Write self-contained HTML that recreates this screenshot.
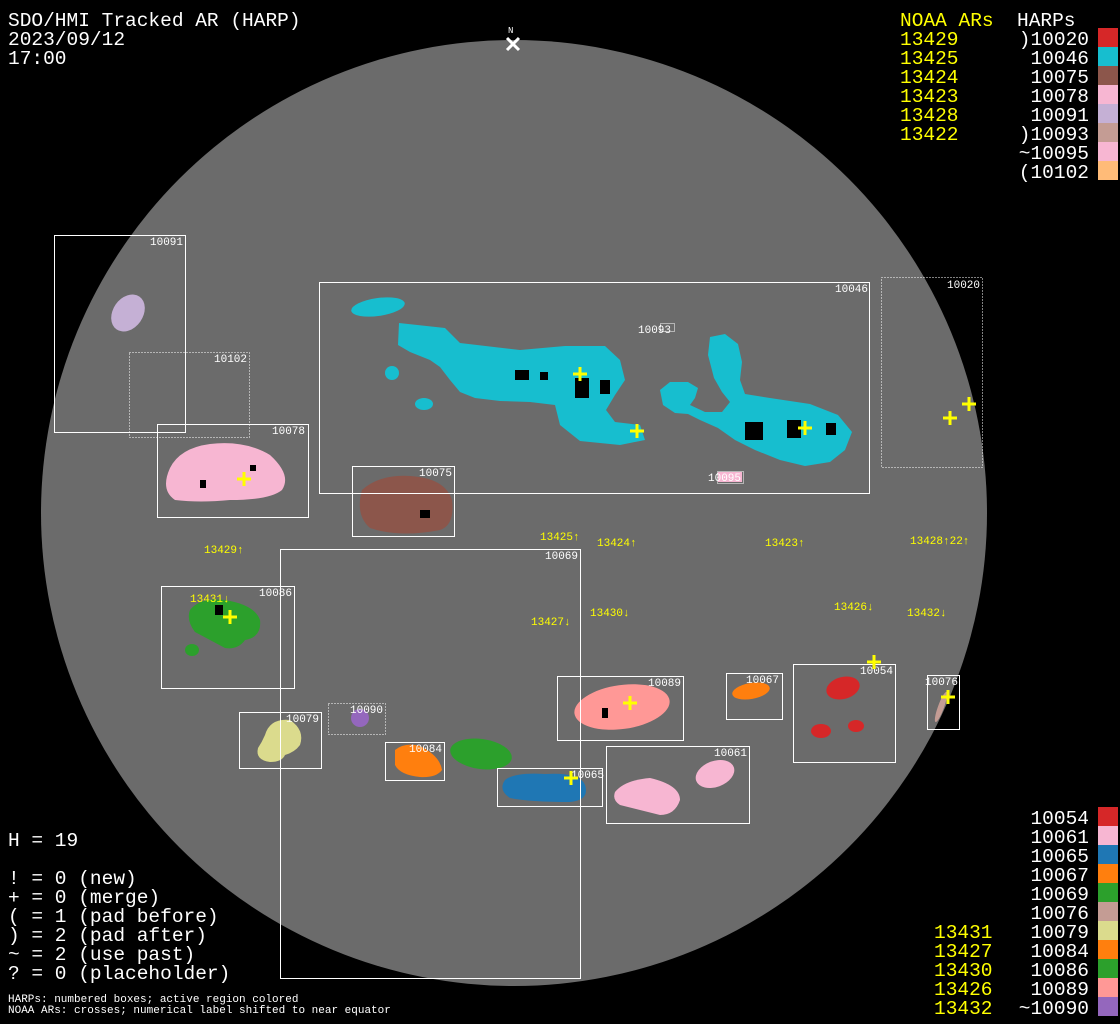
<!DOCTYPE html>
<html><head><meta charset="utf-8"><style>
html,body{margin:0;padding:0;background:#000;width:1120px;height:1024px;overflow:hidden}
svg{display:block}
.m{font-family:"Liberation Mono","DejaVu Sans Mono",monospace}
</style></head><body>
<svg width="1120" height="1024" viewBox="0 0 1120 1024" xmlns="http://www.w3.org/2000/svg">
<rect width="1120" height="1024" fill="#000"/>
<circle cx="514" cy="513" r="473" fill="#6b6b6b"/>
<!-- N marker -->
<text x="508" y="33" fill="#fff" font-size="9" class="m">N</text>
<path d="M507 38 L519 50 M519 38 L507 50" stroke="#fff" stroke-width="3"/>

<!-- blobs -->
<g>
<ellipse cx="128" cy="313" rx="15" ry="20" transform="rotate(35 128 313)" fill="#c5b0d5"/>
<path d="M170 468 Q180 448 210 444 Q245 440 270 455 Q292 475 282 490 Q270 500 230 500 Q200 503 175 500 Q160 490 170 468Z" fill="#f7b6d2"/>
<ellipse cx="378" cy="307" rx="27" ry="9" transform="rotate(-8 378 307)" fill="#17becf"/>
<circle cx="392" cy="373" r="7" fill="#17becf"/>
<ellipse cx="424" cy="404" rx="9" ry="6" fill="#17becf"/>
<path d="M399 323 L445 328 L460 343 L520 350 L565 346 L605 346 L620 360 L625 380 L615 395 L606 410 L615 422 L640 425 L645 440 L620 445 L580 441 L560 425 L555 405 L530 402 L500 401 L475 398 L460 392 L450 380 L440 367 L430 360 L410 352 L398 345Z" fill="#17becf"/>
<path d="M710 337 L725 334 L738 344 L742 362 L740 380 L745 394 L770 398 L810 404 L838 415 L852 432 L845 450 L830 462 L805 466 L780 460 L755 450 L735 440 L718 428 L700 420 L688 414 L675 413 L663 405 L660 390 L670 382 L688 382 L698 388 L695 398 L690 405 L705 412 L722 412 L730 402 L722 392 L714 378 L708 355Z" fill="#17becf"/>
<path d="M362 490 Q380 474 410 476 Q445 478 452 500 Q455 525 440 530 Q400 538 370 528 Q355 515 362 490Z" fill="#8c564b"/>
<rect x="718" y="472" width="24" height="10" fill="#f7b6d2"/>
<path d="M190 610 Q200 597 225 600 Q255 605 260 620 Q262 637 245 640 Q238 650 225 648 Q210 640 195 632 Q186 620 190 610Z" fill="#2ca02c"/>
<ellipse cx="192" cy="650" rx="7" ry="6" fill="#2ca02c"/>
<circle cx="360" cy="718" r="9" fill="#9467bd"/>
<path d="M265 735 Q270 718 290 720 Q305 730 300 745 Q295 752 285 755 Q282 762 270 762 Q255 760 258 748 Q262 742 265 735Z" fill="#dbdb8d"/>
<path d="M395 750 Q405 742 420 746 Q440 756 442 770 Q436 778 420 777 Q400 775 395 765Z" fill="#ff7f0e"/>
<ellipse cx="481" cy="754" rx="31" ry="15" transform="rotate(8 481 754)" fill="#2ca02c"/>
<path d="M505 780 Q515 772 545 774 Q580 772 585 785 Q590 800 570 802 Q530 802 510 798 Q498 790 505 780Z" fill="#1f77b4"/>
<ellipse cx="622" cy="707" rx="48" ry="22" transform="rotate(-8 622 707)" fill="#ff9896"/>
<ellipse cx="751" cy="691" rx="19" ry="8" transform="rotate(-10 751 691)" fill="#ff7f0e"/>
<path d="M615 792 Q625 780 650 778 Q680 785 680 800 Q675 815 660 815 Q640 810 620 805 Q612 800 615 792Z" fill="#f7b6d2"/>
<ellipse cx="715" cy="774" rx="20" ry="13" transform="rotate(-20 715 774)" fill="#f7b6d2"/>
<ellipse cx="843" cy="688" rx="17" ry="11" transform="rotate(-15 843 688)" fill="#d62728"/>
<ellipse cx="821" cy="731" rx="10" ry="7" fill="#d62728"/>
<ellipse cx="856" cy="726" rx="8" ry="6" fill="#d62728"/>
<ellipse cx="941" cy="707" rx="3" ry="16" transform="rotate(20 941 707)" fill="#c49c94"/>
</g>
<!-- sunspots -->
<g fill="#000">
<rect x="745" y="422" width="18" height="18"/><rect x="787" y="420" width="14" height="18"/><rect x="826" y="423" width="10" height="12"/>
<rect x="575" y="378" width="14" height="20"/><rect x="515" y="370" width="14" height="10"/><rect x="600" y="380" width="10" height="14"/>
<rect x="540" y="372" width="8" height="8"/><rect x="420" y="510" width="10" height="8"/><rect x="215" y="605" width="8" height="10"/>
<rect x="200" y="480" width="6" height="8"/><rect x="602" y="708" width="6" height="10"/><rect x="250" y="465" width="6" height="6"/>
</g>

<!-- boxes -->
<g fill="none" stroke="#fff" stroke-width="1">
<rect x="54.5" y="235.5" width="131" height="197"/>
<rect x="129.5" y="352.5" width="120" height="85" stroke-dasharray="1 2"/>
<rect x="157.5" y="424.5" width="151" height="93"/>
<rect x="319.5" y="282.5" width="550" height="211"/>
<rect x="881.5" y="277.5" width="101" height="190" stroke-dasharray="1 2"/>
<rect x="352.5" y="466.5" width="102" height="70"/>
<rect x="280.5" y="549.5" width="300" height="429"/>
<rect x="161.5" y="586.5" width="133" height="102"/>
<rect x="328.5" y="703.5" width="57" height="31" stroke-dasharray="1 2"/>
<rect x="239.5" y="712.5" width="82" height="56"/>
<rect x="385.5" y="742.5" width="59" height="38"/>
<rect x="497.5" y="768.5" width="105" height="38"/>
<rect x="557.5" y="676.5" width="126" height="64"/>
<rect x="726.5" y="673.5" width="56" height="46"/>
<rect x="606.5" y="746.5" width="143" height="77"/>
<rect x="793.5" y="664.5" width="102" height="98"/>
<rect x="927.5" y="675.5" width="32" height="54"/>
<rect x="717.5" y="471.5" width="26" height="12" stroke-dasharray="1 1"/>
<rect x="660.5" y="323.5" width="14" height="8" stroke-dasharray="1 1"/>
</g>
<g fill="#fff" font-size="11" class="m">
<text x="150" y="245">10091</text><text x="214" y="362">10102</text><text x="272" y="434">10078</text>
<text x="835" y="292">10046</text><text x="947" y="288">10020</text><text x="419" y="476">10075</text>
<text x="545" y="559">10069</text><text x="259" y="596">10086</text><text x="350" y="713">10090</text>
<text x="286" y="722">10079</text><text x="409" y="752">10084</text><text x="571" y="778">10065</text>
<text x="648" y="686">10089</text><text x="746" y="683">10067</text><text x="714" y="756">10061</text>
<text x="860" y="674">10054</text><text x="925" y="685">10076</text><text x="708" y="481">10095</text>
<text x="638" y="333">10093</text>
</g>
<!-- crosses -->
<g stroke="#ff0" stroke-width="3">
<path d="M573 374h14M580 367v14"/><path d="M630 431h14M637 424v14"/><path d="M798 428h14M805 421v14"/>
<path d="M943 418h14M950 411v14"/><path d="M962 404h14M969 397v14"/><path d="M237 479h14M244 472v14"/>
<path d="M223 617h14M230 610v14"/><path d="M867 662h14M874 655v14"/><path d="M623 703h14M630 696v14"/>
<path d="M941 697h14M948 690v14"/><path d="M564 778h14M571 771v14"/>
</g>
<g fill="#ff0" font-size="11" class="m">
<text x="204" y="553">13429↑</text><text x="540" y="540">13425↑</text><text x="597" y="546">13424↑</text>
<text x="765" y="546">13423↑</text><text x="910" y="544">13428↑22↑</text><text x="190" y="602">13431↓</text>
<text x="531" y="625">13427↓</text><text x="590" y="616">13430↓</text><text x="834" y="610">13426↓</text>
<text x="907" y="616">13432↓</text>
</g>

<!-- top-left text -->
<g fill="#fff" font-size="19.5" class="m">
<text x="8" y="26">SDO/HMI Tracked AR (HARP)</text>
<text x="8" y="45">2023/09/12</text>
<text x="8" y="64">17:00</text>
<text x="8" y="846">H = 19</text>
<text x="8" y="884">! = 0 (new)</text>
<text x="8" y="903">+ = 0 (merge)</text>
<text x="8" y="922">( = 1 (pad before)</text>
<text x="8" y="941">) = 2 (pad after)</text>
<text x="8" y="960">~ = 2 (use past)</text>
<text x="8" y="979">? = 0 (placeholder)</text>
</g>
<g fill="#fff" font-size="11" class="m">
<text x="8" y="1002">HARPs: numbered boxes; active region colored</text>
<text x="8" y="1013">NOAA ARs: crosses; numerical label shifted to near equator</text>
</g>
<!-- top-right legend -->
<g font-size="19.5" class="m">
<text x="900" y="26" fill="#ff0">NOAA ARs</text><text x="1017" y="26" fill="#fff">HARPs</text>
<g fill="#ff0"><text x="900" y="45">13429</text><text x="900" y="64">13425</text><text x="900" y="83">13424</text><text x="900" y="102">13423</text><text x="900" y="121">13428</text><text x="900" y="140">13422</text></g>
<g fill="#fff" text-anchor="end"><text x="1089" y="45">)10020</text><text x="1089" y="64">10046</text><text x="1089" y="83">10075</text><text x="1089" y="102">10078</text><text x="1089" y="121">10091</text><text x="1089" y="140">)10093</text><text x="1089" y="159">~10095</text><text x="1089" y="178">(10102</text></g>
</g>
<rect x="1098" y="28" width="20" height="19" fill="#d62728"/><rect x="1098" y="47" width="20" height="19" fill="#17becf"/>
<rect x="1098" y="66" width="20" height="19" fill="#8c564b"/><rect x="1098" y="85" width="20" height="19" fill="#f7b6d2"/>
<rect x="1098" y="104" width="20" height="19" fill="#c5b0d5"/><rect x="1098" y="123" width="20" height="19" fill="#c49c94"/>
<rect x="1098" y="142" width="20" height="19" fill="#f7b6d2"/><rect x="1098" y="161" width="20" height="19" fill="#ffbb78"/>
<!-- bottom-right legend -->
<g font-size="19.5" class="m">
<g fill="#fff" text-anchor="end"><text x="1089" y="824">10054</text><text x="1089" y="843">10061</text><text x="1089" y="862">10065</text><text x="1089" y="881">10067</text><text x="1089" y="900">10069</text><text x="1089" y="919">10076</text><text x="1089" y="938">10079</text><text x="1089" y="957">10084</text><text x="1089" y="976">10086</text><text x="1089" y="995">10089</text><text x="1089" y="1014">~10090</text></g>
<g fill="#ff0"><text x="934" y="938">13431</text><text x="934" y="957">13427</text><text x="934" y="976">13430</text><text x="934" y="995">13426</text><text x="934" y="1014">13432</text></g>
</g>
<rect x="1098" y="807" width="20" height="19" fill="#d62728"/><rect x="1098" y="826" width="20" height="19" fill="#f7b6d2"/>
<rect x="1098" y="845" width="20" height="19" fill="#1f77b4"/><rect x="1098" y="864" width="20" height="19" fill="#ff7f0e"/>
<rect x="1098" y="883" width="20" height="19" fill="#2ca02c"/><rect x="1098" y="902" width="20" height="19" fill="#c49c94"/>
<rect x="1098" y="921" width="20" height="19" fill="#dbdb8d"/><rect x="1098" y="940" width="20" height="19" fill="#ff7f0e"/>
<rect x="1098" y="959" width="20" height="19" fill="#2ca02c"/><rect x="1098" y="978" width="20" height="19" fill="#ff9896"/>
<rect x="1098" y="997" width="20" height="19" fill="#9467bd"/>
</svg>
</body></html>
